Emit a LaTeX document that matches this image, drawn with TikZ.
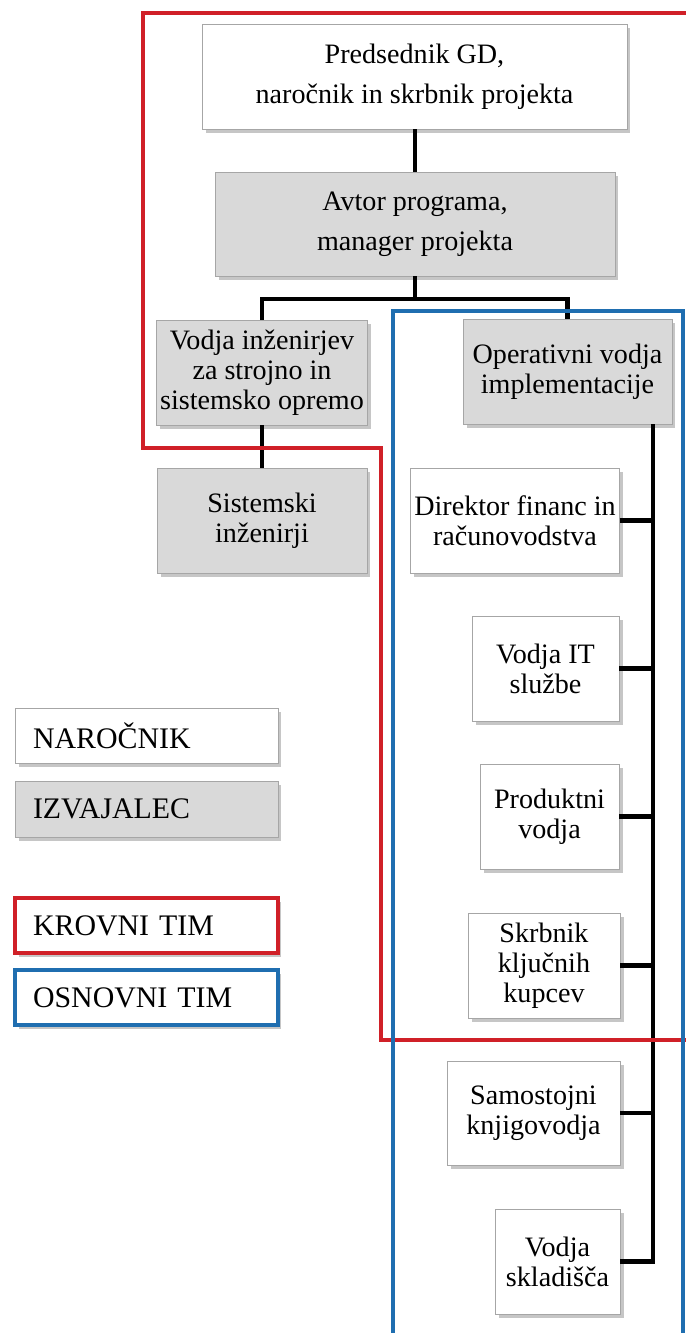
\documentclass[tikz,border=0pt]{standalone}
\usepackage{fontspec}
\setmainfont{Liberation Serif}
\usetikzlibrary{shadows}
\definecolor{krovnired}{RGB}{208,32,40}
\definecolor{osnovniblue}{RGB}{31,110,176}
\definecolor{izvajalecgrey}{RGB}{217,217,217}

\begin{document}
\begin{tikzpicture}[x=0.02cm, y=-0.02cm,
  box/.style={draw=black!35, fill=white, align=center, inner sep=2pt,
    minimum height=2.1cm, font=\fontsize{16}{17}\selectfont,
    drop shadow={shadow xshift=2pt, shadow yshift=-2pt, fill=black!50, opacity=0.45}},
  greybox/.style={box, fill=izvajalecgrey},
  topbox/.style={font=\fontsize{16}{23}\selectfont},
  legendbox/.style={box, minimum height=1.1cm, minimum width=5.26cm,
    text width=4.54cm, align=left, inner xsep=0.36cm, font=\fontsize{17}{19}\selectfont},
  conn/.style={line width=2.3pt},
  team/.style={line width=2.4pt}]
  \useasboundingbox (0,0) rectangle (686,1333);

  % upper part
  \node[box, topbox, minimum width=8.5cm] (pres) at (414.5,76.5) {Predsednik GD,\\naročnik in skrbnik projekta};
  \node[greybox, topbox, minimum width=8cm, minimum height=2.08cm] (avtor) at (415,224) {Avtor programa,\\manager projekta};
  \node[greybox, minimum width=4.2cm] (vodjaing) at (262,372.5) {Vodja inženirjev\\za strojno in\\sistemsko opremo};
  \node[greybox, minimum width=4.18cm] (operativni) at (567.5,371.5) {Operativni vodja\\implementacije};
  \node[greybox, minimum width=4.2cm] (sistemski) at (262,520.5) {Sistemski\\inženirji};

  % right column
  \node[box, minimum width=4.16cm] (direktor) at (515,520.5) {Direktor financ in\\računovodstva};
  \node[box, minimum width=2.94cm] (vodjait) at (545.5,668.5) {Vodja IT\\službe};
  \node[box, minimum width=2.78cm] (produktni) at (549.5,816.5) {Produktni\\vodja};
  \node[box, minimum width=3.04cm] (skrbnik) at (544,965.5) {Skrbnik\\ključnih\\kupcev};
  \node[box, minimum width=3.46cm, minimum height=2.08cm] (samostojni) at (533.5,1113) {Samostojni\\knjigovodja};
  \node[box, minimum width=2.5cm] (skladisce) at (557.5,1261.5) {Vodja\\skladišča};

  % legend
  \node[legendbox] (narocnik) at (146.5,735.5) {NAROČNIK};
  \node[legendbox, fill=izvajalecgrey, minimum height=1.12cm] (izvajalec) at (146.5,809) {IZVAJALEC};
  \node[legendbox, draw=krovnired, team] (krovni) at (146.5,925.5) {KROVNI TIM};
  \node[legendbox, draw=osnovniblue, team] (osnovni) at (146.5,997.5) {OSNOVNI TIM};

  % connectors
  \coordinate (fork) at (415,299);
  \coordinate (spine) at (653,424);
  \draw[conn] (avtor.north) -- (avtor.north |- pres.south);
  \draw[conn] (avtor) -- (fork);
  \draw[conn] (vodjaing.north) |- (fork) -| (operativni.north);
  \draw[conn] (vodjaing) -- (sistemski);
  \draw[conn] (operativni.south -| spine) |- (skladisce.east);
  \foreach \n in {direktor,vodjait,produktni,skrbnik,samostojni}
    \draw[conn] (\n.east) -- (\n.east -| spine);

  % teams
  \draw[team, krovnired] (690,13) -- (143,13) -- (143,448) -- (381,448) -- (381,1040) -- (690,1040);
  \draw[team, osnovniblue] (393,1340) -- (393,311) -- (683,311) -- (683,1340);

\end{tikzpicture}
\end{document}
